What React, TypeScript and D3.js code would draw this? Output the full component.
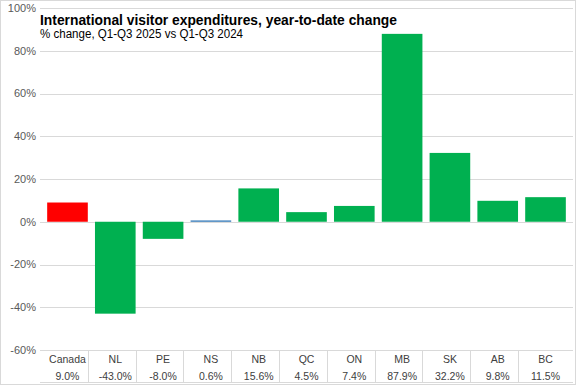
import * as d3 from 'd3';
import React, { useRef, useEffect } from 'react';

const categories = ['Canada', 'NL', 'PE', 'NS', 'NB', 'QC', 'ON', 'MB', 'SK', 'AB', 'BC']
const values = [9.0, -43.0, -8.0, 0.6, 15.6, 4.5, 7.4, 87.9, 32.2, 9.8, 11.5]
const valueLabels = ['9.0%', '-43.0%', '-8.0%', '0.6%', '15.6%', '4.5%', '7.4%', '87.9%', '32.2%', '9.8%', '11.5%']
const yTicks = [-60, -40, -20, 0, 20, 40, 60, 80, 100]

const title = 'International visitor expenditures, year-to-date change'
const subtitle = '% change, Q1-Q3 2025 vs Q1-Q3 2024'

const barColor = (cat: string) => {
    if (cat === 'Canada') return '#ff0000'
    if (cat === 'NS') return '#2e75b6'
    return '#00b050'
}

const App = () => {
    const ref = useRef<HTMLDivElement>(null)

    const W = 576
    const H = 385
    const margin = { top: 8, right: 3, bottom: 35, left: 40 }
    const width = W - margin.left - margin.right
    const height = H - margin.top - margin.bottom

    useEffect(() => {
        document.body.style.margin = '0'
        d3.select(ref.current).selectAll('svg').remove()

        const root = d3.select(ref.current)
            .append('svg')
            .attr('width', W)
            .attr('height', H)
            .style('display', 'block')
            .style('background', '#fff')

        const font = '"Liberation Sans", Arial, sans-serif'

        // outer border
        root.append('rect')
            .attr('x', 0.5).attr('y', 0.5)
            .attr('width', W - 1).attr('height', H - 1)
            .attr('fill', 'none')
            .attr('stroke', '#d9d9d9')

        const svg = root.append('g')
            .attr('transform', 'translate(' + margin.left + ',' + margin.top + ')')

        const x = d3.scaleBand()
            .domain(categories)
            .range([0, width])
            .padding(0.15)

        const y = d3.scaleLinear()
            .domain([-60, 100])
            .range([height, 0])

        // gridlines
        svg.append('g')
            .selectAll('line')
            .data(yTicks)
            .join('line')
            .attr('x1', 0)
            .attr('x2', width)
            .attr('y1', d => Math.round(y(d)) + 0.5)
            .attr('y2', d => Math.round(y(d)) + 0.5)
            .attr('stroke', '#d9d9d9')

        // y axis labels
        svg.append('g')
            .selectAll('text')
            .data(yTicks)
            .join('text')
            .attr('x', -4)
            .attr('y', d => y(d))
            .attr('dy', '0.35em')
            .attr('text-anchor', 'end')
            .style('font-family', font)
            .style('font-size', '11px')
            .attr('fill', '#595959')
            .text(d => d + '%')

        // bars
        svg.append('g')
            .selectAll('rect')
            .data(categories)
            .join('rect')
            .attr('x', d => x(d)!)
            .attr('width', x.bandwidth())
            .attr('y', (d, i) => y(Math.max(0, values[i])))
            .attr('height', (d, i) => Math.abs(y(values[i]) - y(0)))
            .attr('fill', d => barColor(d))

        // data table below the plot
        const tbl = svg.append('g').attr('transform', `translate(0, ${height})`)
        const step = x.step()
        const rowH = 33

        tbl.append('line')
            .attr('x1', 0).attr('x2', width)
            .attr('y1', rowH - 0.5).attr('y2', rowH - 0.5)
            .attr('stroke', '#d9d9d9')

        tbl.selectAll('line.sep')
            .data(categories.slice(0, -1))
            .join('line')
            .attr('class', 'sep')
            .attr('x1', (d, i) => Math.round((i + 1) * step) + 0.5)
            .attr('x2', (d, i) => Math.round((i + 1) * step) + 0.5)
            .attr('y1', 0)
            .attr('y2', rowH)
            .attr('stroke', '#d9d9d9')

        tbl.selectAll('text.cat')
            .data(categories)
            .join('text')
            .attr('class', 'cat')
            .attr('x', d => x(d)! + x.bandwidth() / 2)
            .attr('y', 9)
            .attr('dy', '0.35em')
            .attr('text-anchor', 'middle')
            .style('font-family', font)
            .style('font-size', '10.5px')
            .attr('fill', '#404040')
            .text(d => d)

        tbl.selectAll('text.val')
            .data(categories)
            .join('text')
            .attr('class', 'val')
            .attr('x', d => x(d)! + x.bandwidth() / 2)
            .attr('y', 26)
            .attr('dy', '0.35em')
            .attr('text-anchor', 'middle')
            .style('font-family', font)
            .style('font-size', '10.5px')
            .attr('fill', '#404040')
            .text((d, i) => valueLabels[i])

        // title
        root.append('text')
            .attr('x', 40)
            .attr('y', 25)
            .attr('textLength', 357)
            .attr('lengthAdjust', 'spacingAndGlyphs')
            .style('font-family', font)
            .style('font-size', '15px')
            .style('font-weight', 'bold')
            .attr('fill', '#000')
            .text(title)

        root.append('text')
            .attr('x', 40)
            .attr('y', 38)
            .attr('textLength', 203)
            .attr('lengthAdjust', 'spacingAndGlyphs')
            .style('font-family', font)
            .style('font-size', '12px')
            .attr('fill', '#000')
            .text(subtitle)
    }, [])

    return <div ref={ref} />
}

export default App
